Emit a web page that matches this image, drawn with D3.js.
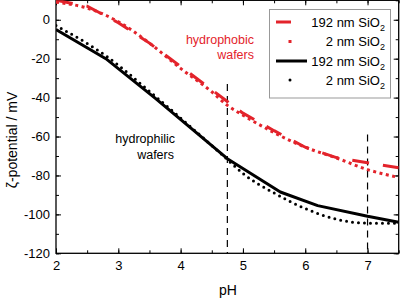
<!DOCTYPE html>
<html><head><meta charset="utf-8">
<script src="https://cdn.jsdelivr.net/npm/d3@7"></script>
<style>body{margin:0;background:#fff}svg{display:block;font-family:"Liberation Sans",Arial,sans-serif}</style>
</head><body><svg id="c" width="400" height="298"></svg>
<script>
const pH192phob = [2, 2.5, 3, 3.5, 4, 4.5, 4.75, 5, 5.5, 6, 6.5, 7, 7.5];
const val192phob = [10, 7, -1.5, -12, -24, -36, -42, -48, -57, -65.5, -70.8, -73.5, -76];
const pH2phob = [2, 2.5, 3, 3.5, 4, 4.5, 4.75, 5, 5.5, 6, 6.5, 7, 7.5];
const val2phob = [9, 6, -1, -12, -25, -37, -44, -49, -58, -65.5, -71, -77, -81];
const pH192phil = [2, 2.8, 3.6, 4.75, 5.6, 6.2, 7, 7.5];
const val192phil = [-5, -20, -40.5, -71.4, -88.5, -95.5, -101, -104];
const pH2phil = [2, 2.8, 3.6, 4.75, 5, 5.5, 6, 6.5, 7, 7.5];
const val2phil = [-3, -18.5, -39.5, -71.8, -79, -89, -97, -102.5, -104.5, -104.5];
const xTicks = [2, 3, 4, 5, 6, 7];
const yTicks = [-120, -100, -80, -60, -40, -20, 0];
const refLines = [[4.75, -33], [7, -59]];
const legendLabels = [["192 nm SiO", "2"], ["2 nm SiO", "2"], ["192 nm SiO", "2"], ["2 nm SiO", "2"]];

const RED = "#e3232b";
const svg = d3.select("#c");
const L = 56, R = 398.7, T = 0.3, B = 253.3;
const x = d3.scaleLinear().domain([2, 7.5]).range([L, R]);
const y = d3.scaleLinear().domain([-120, 10]).range([B, T]);

const minorX = d3.range(2, 7.51, 0.5), minorY = d3.range(-120, 10.1, 10);
function tickAxis(axis, scale, vals, len) { return axis(scale).tickValues(vals).tickSizeInner(-len).tickSizeOuter(0).tickFormat(""); }
const gB = svg.append("g").attr("transform", `translate(0,${B})`);
gB.append("g").call(tickAxis(d3.axisBottom, x, minorX, 3));
gB.append("g").call(d3.axisBottom(x).tickValues(xTicks).tickSizeInner(-5).tickSizeOuter(0).tickPadding(7).tickFormat(d3.format("d")));
const gT = svg.append("g").attr("transform", `translate(0,${T})`);
gT.append("g").call(tickAxis(d3.axisTop, x, minorX, 3));
gT.append("g").call(tickAxis(d3.axisTop, x, xTicks, 5));
const gL = svg.append("g").attr("transform", `translate(${L},0)`);
gL.append("g").call(tickAxis(d3.axisLeft, y, minorY, 3));
gL.append("g").call(d3.axisLeft(y).tickValues(yTicks).tickSizeInner(-5).tickSizeOuter(0).tickPadding(6).tickFormat(d => d3.format("d")(d).replace("−", "-")));
const gR = svg.append("g").attr("transform", `translate(${R},0)`);
gR.append("g").call(tickAxis(d3.axisRight, y, minorY, 3));
gR.append("g").call(tickAxis(d3.axisRight, y, yTicks, 5));
svg.selectAll(".domain").remove();
svg.selectAll(".tick line").attr("stroke", "#000").attr("stroke-width", 1);
svg.selectAll(".tick text").attr("font-size", 13).attr("fill", "#000").attr("font-family", "Liberation Sans, Arial, sans-serif");
svg.append("rect").attr("x", L).attr("y", T).attr("width", R - L).attr("height", B - T)
  .attr("fill", "none").attr("stroke", "#000").attr("stroke-width", 1.3);

refLines.forEach(([p, v]) => {
  svg.append("line").attr("x1", x(p)).attr("x2", x(p)).attr("y1", y(v)).attr("y2", B)
    .attr("stroke", "#000").attr("stroke-width", 1.2).attr("stroke-dasharray", "7,5");
});

const smooth = d3.line().curve(d3.curveMonotoneX);
const straight = d3.line();
function series(px, vy) { return px.map((p, i) => [x(p), y(vy[i])]); }
svg.append("clipPath").attr("id", "cp").append("rect").attr("x", L).attr("y", T).attr("width", R - L).attr("height", B - T);
const gData = svg.append("g").attr("clip-path", "url(#cp)");
gData.append("path").attr("d", smooth(series(pH2phob, val2phob))).attr("fill", "none")
  .attr("stroke", RED).attr("stroke-width", 3).attr("stroke-dasharray", "3,3.5");
gData.append("path").attr("d", straight(series(pH192phob, val192phob))).attr("fill", "none")
  .attr("stroke", RED).attr("stroke-width", 3).attr("stroke-dasharray", "17,14");
gData.append("path").attr("d", smooth(series(pH2phil, val2phil))).attr("fill", "none")
  .attr("stroke", "#000").attr("stroke-width", 3).attr("stroke-linecap", "round").attr("stroke-dasharray", "0,6");
gData.append("path").attr("d", straight(series(pH192phil, val192phil))).attr("fill", "none")
  .attr("stroke", "#000").attr("stroke-width", 3).attr("stroke-linejoin", "round");

const ann = svg.append("g").attr("font-size", 12.5).attr("text-anchor", "end");
ann.append("text").attr("x", 254).attr("y", 44).attr("fill", RED).text("hydrophobic");
ann.append("text").attr("x", 254).attr("y", 59).attr("fill", RED).text("wafers");
ann.append("text").attr("x", 175).attr("y", 143).attr("fill", "#000").text("hydrophilic");
ann.append("text").attr("x", 174).attr("y", 159).attr("fill", "#000").text("wafers");

const lg = svg.append("g");
lg.append("rect").attr("x", 269.5).attr("y", 9.5).attr("width", 121).attr("height", 88.5)
  .attr("fill", "#fff").attr("stroke", "#999").attr("stroke-width", 1);
const rowsY = [22, 41.5, 61, 80];
lg.append("line").attr("x1", 276).attr("x2", 291).attr("y1", rowsY[0]).attr("y2", rowsY[0]).attr("stroke", RED).attr("stroke-width", 3);
lg.append("rect").attr("x", 288.5).attr("y", rowsY[1] - 1.5).attr("width", 3).attr("height", 3).attr("fill", RED);
lg.append("line").attr("x1", 276).attr("x2", 307).attr("y1", rowsY[2]).attr("y2", rowsY[2]).attr("stroke", "#000").attr("stroke-width", 3);
lg.append("circle").attr("cx", 290).attr("cy", rowsY[3]).attr("r", 1.5).attr("fill", "#000");
legendLabels.forEach((lab, i) => {
  const t = lg.append("text").attr("x", 385).attr("y", rowsY[i] + 4.5).attr("font-size", 13).attr("text-anchor", "end").attr("fill", "#000");
  t.append("tspan").text(lab[0]);
  t.append("tspan").attr("font-size", 9).attr("dy", 4).text(lab[1]);
});

svg.append("text").attr("x", 228).attr("y", 295).attr("text-anchor", "middle").attr("font-size", 14).text("pH");
svg.append("text").attr("transform", "translate(17,140) rotate(-90)").attr("text-anchor", "middle").attr("font-size", 14).text("ζ-potential / mV");
</script></body></html>
